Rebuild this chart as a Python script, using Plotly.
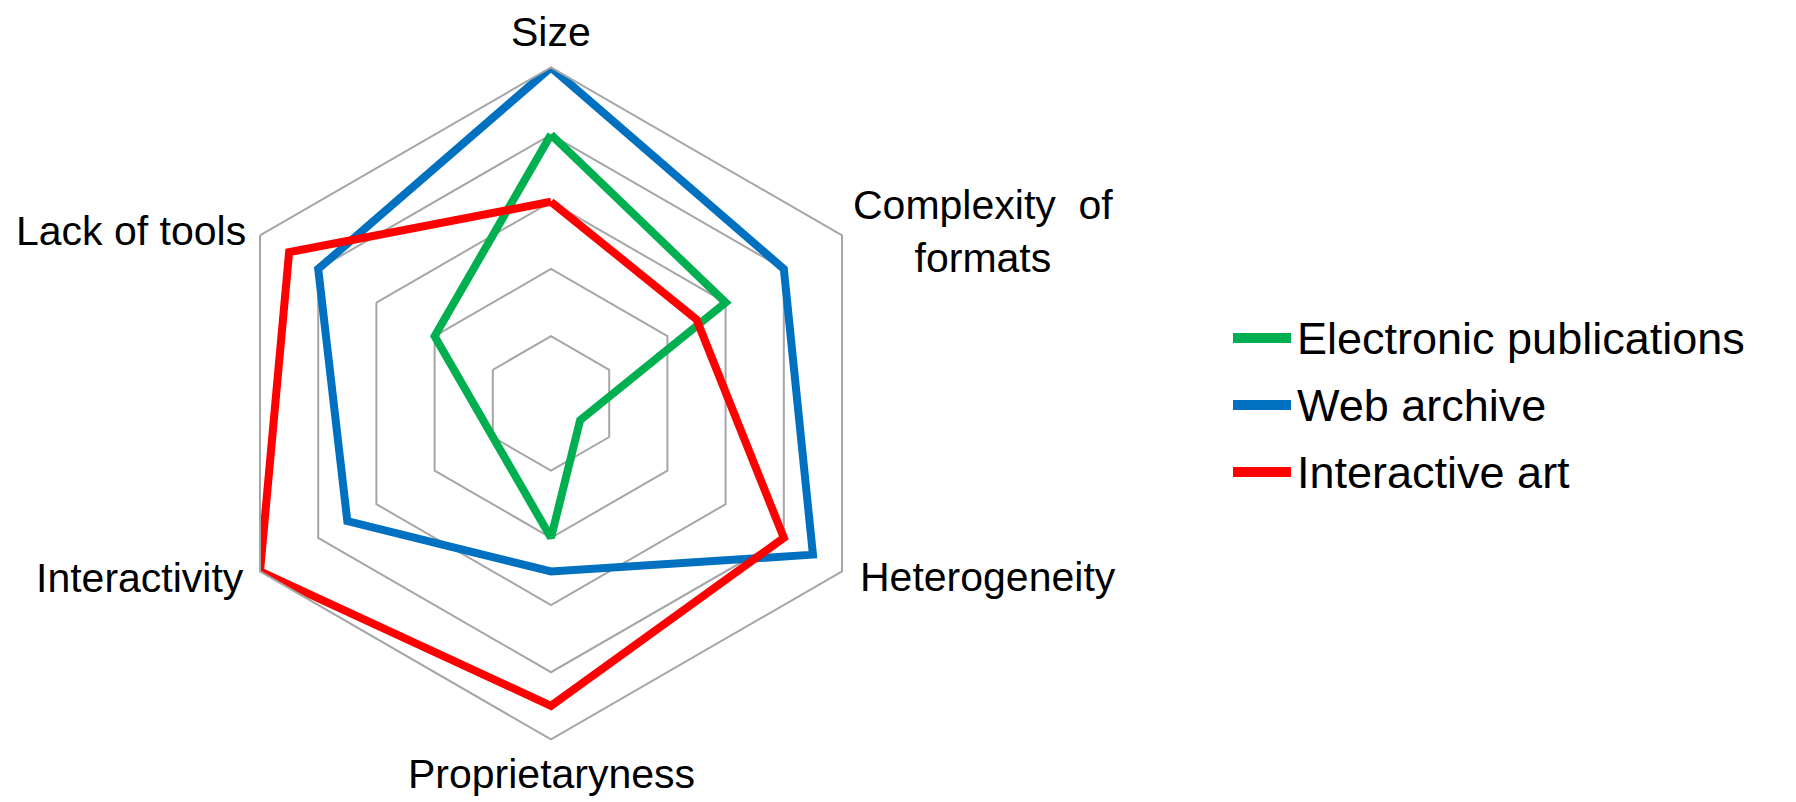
import plotly.graph_objects as go

# Axes of the radar, clockwise from the top
categories = ["Size", "Complexity of formats", "Heterogeneity",
              "Proprietaryness", "Interactivity", "Lack of tools"]
label_text = ["Size", "Complexity  of<br>formats", "Heterogeneity",
              "Proprietaryness", "Interactivity", "Lack of tools"]

series_names = ["Electronic publications", "Web archive", "Interactive art"]
electronic_publications = [4, 3, 0.5, 2, 1, 2]
web_archive = [5, 4, 4.5, 2.5, 3.5, 4]
interactive_art = [3, 2.5, 4, 4.5, 5, 4.5]
series_values = [electronic_publications, web_archive, interactive_art]
series_colors = ["#00b050", "#0070c0", "#ff0000"]

FONT = "Liberation Sans, Arial, sans-serif"
GRID = "#a6a6a6"
W, H = 1796, 802

fig = go.Figure()
for name, vals, col in zip(series_names, series_values, series_colors):
    fig.add_trace(go.Scatterpolar(
        r=vals + vals[:1],
        theta=categories + categories[:1],
        mode="lines",
        name=name,
        line=dict(color=col, width=8),
        showlegend=False,
    ))

fig.update_layout(
    width=W, height=H,
    margin=dict(l=0, r=0, t=0, b=0),
    paper_bgcolor="white",
    plot_bgcolor="white",
    font=dict(family=FONT, size=41, color="black"),
    polar=dict(
        domain=dict(x=[0.1197, 0.4939], y=[0.078, 0.916]),
        bgcolor="white",
        gridshape="linear",
        radialaxis=dict(range=[0, 5], dtick=1, showticklabels=False,
                        ticks="", showline=False, gridcolor=GRID, gridwidth=2),
        angularaxis=dict(rotation=90, direction="clockwise",
                         showticklabels=False,
                         showgrid=False, showline=True, linecolor=GRID,
                         linewidth=2, ticks=""),
    ),
)

# Category labels placed around the outer hexagon (pixel positions)
label_pos = [
    (551, 32, "center"),
    (983, 232, "center"),
    (858, 577, "left"),
    (551, 774, "center"),
    (246, 578, "right"),
    (248, 231, "right"),
]
for txt, (px, py, anchor) in zip(label_text, label_pos):
    fig.add_annotation(x=px / W, y=1 - py / H, xref="paper", yref="paper",
                       text=txt, showarrow=False, xanchor=anchor,
                       yanchor="middle", align="center",
                       font=dict(family=FONT, size=41, color="black"))

# Legend: coloured line sample followed by the series name
legend_x0, legend_x1 = 1233, 1291
legend_rows = [338, 405, 472]
for name, col, y in zip(series_names, series_colors, legend_rows):
    yf = 1 - y / H
    fig.add_shape(type="line", xref="paper", yref="paper",
                  x0=legend_x0 / W, x1=legend_x1 / W, y0=yf, y1=yf,
                  line=dict(color=col, width=10))
    fig.add_annotation(x=(legend_x1 + 4) / W, y=yf, xref="paper", yref="paper",
                       text=name, showarrow=False, xanchor="left", yanchor="middle",
                       font=dict(family=FONT, size=45, color="black"))

fig.write_html("out.html")
